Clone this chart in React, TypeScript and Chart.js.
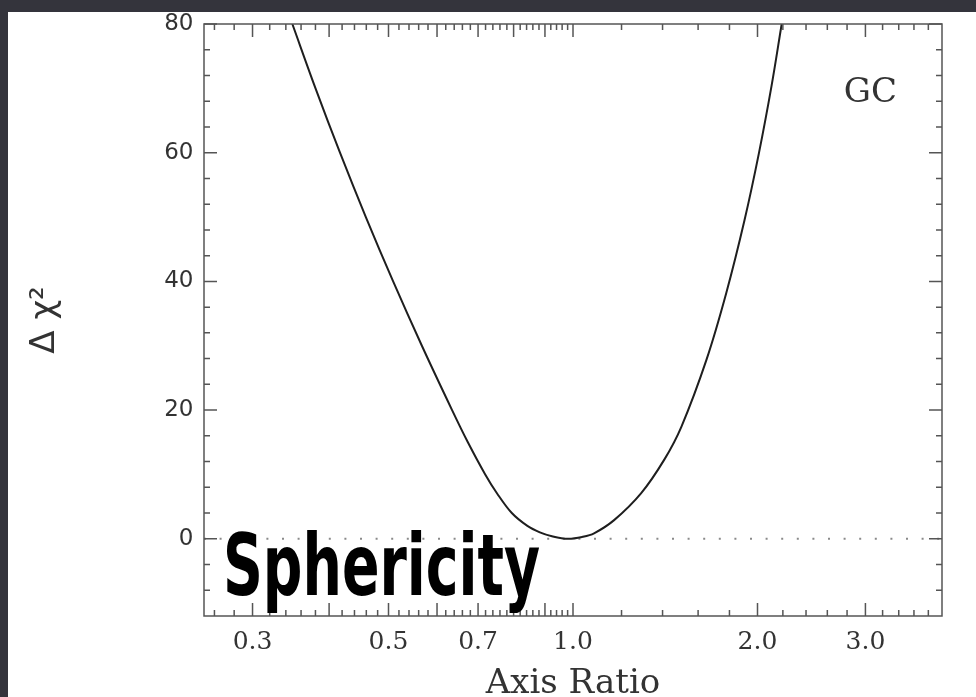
import React, { useEffect, useRef } from "react";
import { Chart, registerables } from "chart.js";

Chart.register(...registerables);

// Curve: Δχ² versus axis ratio
const axisRatio = [0.3484, 0.3801, 0.4167, 0.4592, 0.5088, 0.5668, 0.6349, 0.6737, 0.7191, 0.7524, 0.7946, 0.8425, 0.883, 0.9239, 0.9813, 1.0368, 1.0823, 1.167, 1.2921, 1.4091, 1.5024, 1.6508, 1.7786, 1.9046, 2.0104, 2.1077, 2.1902];
const deltaChi2 = [80, 70, 60, 50, 40, 30, 20, 15, 10, 7, 4, 2, 1, 0.4, 0, 0.3, 0.85, 2.9, 7.1, 12.3, 17.4, 27.8, 38.2, 49.5, 59.9, 70.3, 80];

// Dotted zero reference line
const zeroLineX = [0.25, 4];
const zeroLineY = [0, 0];

// Axes
const xMin = 0.25;
const xMax = 4;
const yMin = -12;
const yMax = 80;
const xLabelValues = [0.3, 0.5, 0.7, 1.0, 2.0, 3.0];
const xLabels = ["0.3", "0.5", "0.7", "1.0", "2.0", "3.0"];
const xMajorTicks = [0.3, 0.4, 0.5, 0.6, 0.7, 0.8, 0.9, 1, 2, 3];
const xMinorTicks = [0.26, 0.28, 0.32, 0.34, 0.36, 0.38, 0.42, 0.44, 0.46, 0.48, 0.52, 0.54, 0.56, 0.58, 0.62, 0.64, 0.66, 0.68, 0.72, 0.74, 0.76, 0.78, 0.82, 0.84, 0.86, 0.88, 0.92, 0.94, 0.96, 0.98, 1.2, 1.4, 1.6, 1.8, 2.2, 2.4, 2.6, 2.8, 3.2, 3.4, 3.6, 3.8];
const yLabelValues = [0, 20, 40, 60, 80];
const yLabels = ["0", "20", "40", "60", "80"];
const yMinorTicks = [-8, -4, 4, 8, 12, 16, 24, 28, 32, 36, 44, 48, 52, 56, 64, 68, 72, 76];

const xTitle = "Axis Ratio";
const yTitle = "Δ χ²";
const panelLabel = "GC";
const overlayLabel = "Sphericity";

const TEXT = "#333333";
const AXIS = "#555555";

const framePlugin = {
  id: "idlFrame",
  afterDatasetsDraw(chart: any) {
    const { ctx, chartArea: a, scales } = chart;
    const xs = scales.x;
    const ys = scales.y;
    ctx.save();
    ctx.strokeStyle = AXIS;
    ctx.lineWidth = 1.5;
    ctx.strokeRect(a.left, a.top, a.right - a.left, a.bottom - a.top);
    ctx.beginPath();
    const xt = (v: number, len: number) => {
      const p = xs.getPixelForValue(v);
      ctx.moveTo(p, a.bottom);
      ctx.lineTo(p, a.bottom - len);
      ctx.moveTo(p, a.top);
      ctx.lineTo(p, a.top + len);
    };
    const yt = (v: number, len: number) => {
      const p = ys.getPixelForValue(v);
      ctx.moveTo(a.left, p);
      ctx.lineTo(a.left + len, p);
      ctx.moveTo(a.right, p);
      ctx.lineTo(a.right - len, p);
    };
    xMajorTicks.forEach((v) => xt(v, 13));
    xMinorTicks.forEach((v) => xt(v, 6));
    yLabelValues.forEach((v) => yt(v, 13));
    yMinorTicks.forEach((v) => yt(v, 6));
    ctx.stroke();
    ctx.restore();
  },
  afterDraw(chart: any) {
    const { ctx, chartArea: a } = chart;
    ctx.save();
    ctx.fillStyle = TEXT;
    ctx.font = "34px 'DejaVu Serif', serif";
    ctx.textAlign = "right";
    ctx.textBaseline = "alphabetic";
    ctx.fillText(panelLabel, a.right - 45, a.top + 78);

    ctx.font = "bold 86px 'Liberation Sans Narrow', 'DejaVu Sans Condensed', 'Liberation Sans', sans-serif";
    ctx.textAlign = "left";
    const w = ctx.measureText(overlayLabel).width;
    const sx = 317 / w;
    ctx.translate(a.left + 19, a.bottom - 21);
    ctx.scale(sx, 1);
    ctx.fillStyle = "#000000";
    ctx.fillText(overlayLabel, 0, 0);
    ctx.restore();
  },
};

export default function App() {
  const canvasRef = useRef<HTMLCanvasElement | null>(null);

  useEffect(() => {
    const canvas = canvasRef.current;
    if (!canvas) return;
    const chart = new Chart(canvas, {
      type: "line",
      data: {
        datasets: [
          {
            data: axisRatio.map((x, i) => ({ x, y: deltaChi2[i] })),
            borderColor: "#1e1e1e",
            borderWidth: 2,
            pointRadius: 0,
            tension: 0.35,
            fill: false,
          },
          {
            data: zeroLineX.map((x, i) => ({ x, y: zeroLineY[i] })),
            borderColor: "#8a8a8a",
            borderWidth: 2,
            borderDash: [2, 13.6],
            pointRadius: 0,
            fill: false,
          },
        ],
      },
      options: {
        responsive: false,
        animation: false,
        events: [],
        layout: { padding: { top: 12, right: 34, bottom: 0, left: 0 } },
        plugins: {
          legend: { display: false },
          tooltip: { enabled: false },
          title: { display: false },
        },
        scales: {
          x: {
            type: "logarithmic",
            min: xMin,
            max: xMax,
            grid: { display: false, drawTicks: false, tickLength: 0 },
            border: { display: false },
            afterBuildTicks: (s: any) => {
              s.ticks = xLabelValues.map((v) => ({ value: v }));
            },
            afterFit: (s: any) => {
              s.height = 81;
              s.paddingLeft = 0;
              s.paddingRight = 0;
              s.paddingTop = 0;
              s.paddingBottom = 0;
            },
            ticks: {
              autoSkip: false,
              maxRotation: 0,
              minRotation: 0,
              padding: 13.5,
              color: TEXT,
              font: { family: "'DejaVu Serif', serif", size: 25, lineHeight: 1 },
              callback: (_v: any, i: number) => xLabels[i],
            },
            title: {
              display: true,
              text: xTitle,
              color: TEXT,
              font: { family: "'DejaVu Serif', serif", size: 34, lineHeight: 0.75 },
              padding: { top: 0, bottom: 0.25 },
            },
          },
          y: {
            type: "linear",
            min: yMin,
            max: yMax,
            grid: { display: false, drawTicks: false, tickLength: 0 },
            border: { display: false },
            afterBuildTicks: (s: any) => {
              s.ticks = yLabelValues.map((v) => ({ value: v }));
            },
            afterFit: (s: any) => {
              s.width = 196;
              s.paddingLeft = 0;
              s.paddingRight = 0;
              s.paddingTop = 0;
              s.paddingBottom = 0;
            },
            ticks: {
              autoSkip: false,
              padding: 10.5,
              color: TEXT,
              font: { family: "'DejaVu Sans', sans-serif", size: 23, lineHeight: 1 },
              callback: (_v: any, i: number) => yLabels[i],
            },
            title: {
              display: true,
              text: yTitle,
              color: TEXT,
              font: { family: "'DejaVu Sans', sans-serif", size: 34, lineHeight: 1.2 },
              padding: { top: 16.8, bottom: 0 },
            },
          },
        },
      },
      plugins: [framePlugin],
    } as any);
    return () => chart.destroy();
  }, []);

  return (
    <div
      style={{
        position: "fixed",
        left: 0,
        top: 0,
        width: 976,
        height: 697,
        background: "#34343c",
        overflow: "hidden",
      }}
    >
      <div
        style={{
          position: "absolute",
          left: 8,
          top: 12,
          width: 968,
          height: 685,
          background: "#ffffff",
        }}
      >
        <canvas
          ref={canvasRef}
          width={968}
          height={685}
          style={{ display: "block", width: 968, height: 685 }}
        />
      </div>
    </div>
  );
}
